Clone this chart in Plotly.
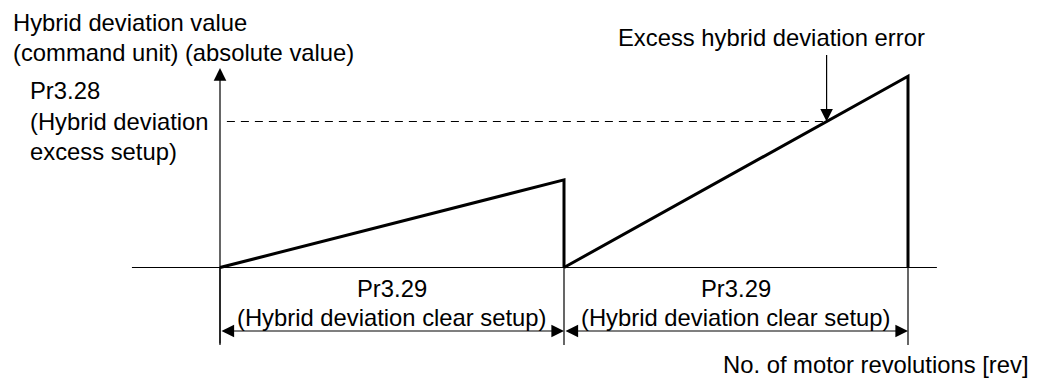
import plotly.graph_objects as go

# ---- data (diagram units: x in Pr3.29 clear periods, y relative to Pr3.28 = 100) ----
cycle_start = [0, 1]
cycle_end = [1, 2]
peak_values = [60, 131]
excess_threshold = 100

y_axis_title = ["Hybrid deviation value", "(command unit) (absolute value)"]
threshold_label = ["Pr3.28", "(Hybrid deviation", "excess setup)"]
period_label = ["Pr3.29", "(Hybrid deviation clear setup)"]
error_label = "Excess hybrid deviation error"
x_axis_title = "No. of motor revolutions [rev]"

W, H = 1039, 378
FONT = dict(family="Liberation Sans, Arial, Helvetica, sans-serif", size=23.8, color="black")

fig = go.Figure()

# ramps (deviation accumulating during each clear period, then cleared)
for xs, xe, pk in zip(cycle_start, cycle_end, peak_values):
    fig.add_trace(go.Scatter(x=[xs, xe, xe], y=[0, pk, 0], mode="lines",
                             line=dict(color="black", width=3), hoverinfo="skip",
                             showlegend=False))

# point where the second ramp crosses the threshold
xs2, xe2, pk2 = cycle_start[1], cycle_end[1], peak_values[1]
x_cross = xs2 + (xe2 - xs2) * excess_threshold / pk2

x_min_line, x_max_line = -0.256, 2.084
y_below = -53.1
y_top = 136.6
y_dim = -43.5

shapes = []
# horizontal axis
shapes.append(dict(type="line", x0=x_min_line, x1=x_max_line, y0=0, y1=0,
                   line=dict(color="black", width=1.2)))
# extension lines below baseline
for xv in [cycle_start[0]] + cycle_end:
    shapes.append(dict(type="line", x0=xv, x1=xv, y0=y_below, y1=0,
                       line=dict(color="black", width=1.2)))
# dashed threshold
shapes.append(dict(type="line", x0=0.02, x1=x_cross, y0=excess_threshold, y1=excess_threshold,
                   line=dict(color="black", width=1.2, dash="8px,6px")))

annotations = []
arrow_common = dict(text="", showarrow=True, axref="x", ayref="y", xref="x", yref="y",
                    arrowhead=2, arrowsize=2.1, arrowwidth=1.2, arrowcolor="black",
                    standoff=0, startstandoff=0)
# y axis with arrow
annotations.append(dict(x=0, y=y_top, ax=0, ay=y_below, **arrow_common))
# excess error arrow
annotations.append(dict(x=x_cross, y=excess_threshold, ax=x_cross, ay=146.6, **arrow_common))
# dimension arrows
for xs, xe in zip(cycle_start, cycle_end):
    annotations.append(dict(x=xe, y=y_dim, ax=xs, ay=y_dim, arrowside="end+start",
                            startarrowhead=2, startarrowsize=2.1, **arrow_common))


def px(x):
    return x / W


def py(y):
    return 1 - y / H


def label(text, x, y, xanchor="left"):
    annotations.append(dict(text=text, x=px(x), y=py(y), xref="paper", yref="paper",
                            xanchor=xanchor, yanchor="middle", showarrow=False, font=FONT))


label(y_axis_title[0], 11, 23)
label(y_axis_title[1], 11, 52)
label(threshold_label[0], 28, 91)
label(threshold_label[1], 28, 121)
label(threshold_label[2], 28, 151)
label(error_label, 771, 38, "center")
for xs, xe in zip(cycle_start, cycle_end):
    xc = 220 + (xs + xe) / 2 * 344
    label(period_label[0], xc, 288, "center")
    label(period_label[1], xc, 317, "center")
label(x_axis_title, 1031, 364, "right")

fig.update_layout(
    width=W, height=H,
    margin=dict(l=0, r=0, t=0, b=0),
    paper_bgcolor="white", plot_bgcolor="white",
    xaxis=dict(range=[-220 / 344, (W - 220) / 344], visible=False, fixedrange=True),
    yaxis=dict(range=[-(H - 267.5) / 1.46, 267.5 / 1.46], visible=False, fixedrange=True),
    shapes=shapes, annotations=annotations, showlegend=False,
)

fig.write_html("out.html", config={"displayModeBar": False},
               post_script="document.body.style.margin='0';")
